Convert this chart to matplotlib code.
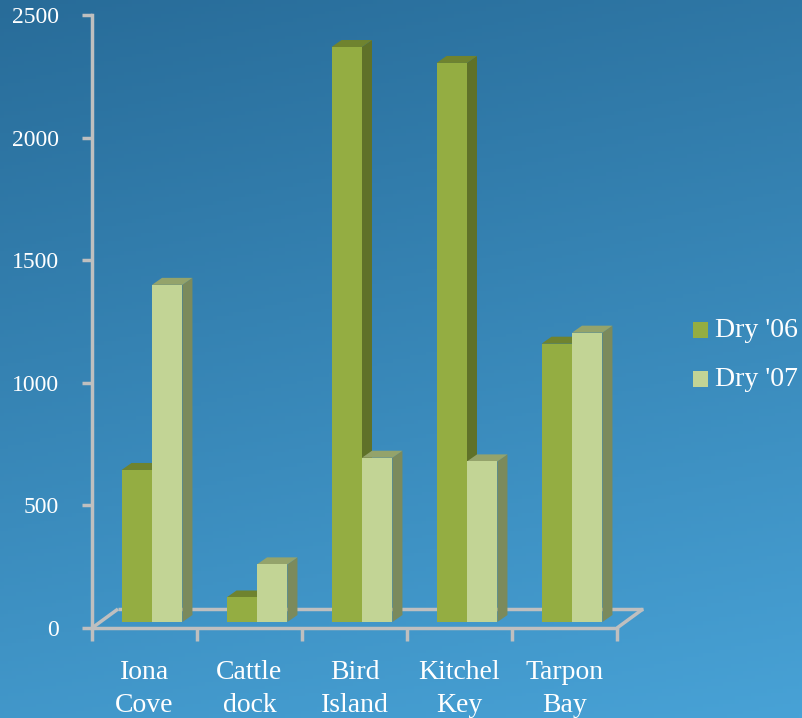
import numpy as np
import matplotlib
matplotlib.use("Agg")
import matplotlib.pyplot as plt
from matplotlib.patches import Polygon, Rectangle

# ---- data ----
categories = ["Iona\nCove", "Cattle\ndock", "Bird\nIsland", "Kitchel\nKey", "Tarpon\nBay"]
series_names = ["Dry '06", "Dry '07"]
dry06 = [620, 100, 2345, 2280, 1135]
dry07 = [1375, 235, 670, 655, 1180]
y_ticks = [0, 500, 1000, 1500, 2000, 2500]

# ---- style ----
W, H = 803, 718
DPI = 100
FONT = ["Liberation Serif", "DejaVu Serif"]
AXIS_COLOR = "#bfbfbf"
face_colors = ["#94ad42", "#c2d495"]
side_colors = ["#5f7129", "#7b8a5c"]
top_colors = ["#6f832f", "#94a36b"]

YMAX = 2500
PX_PER_CAT = 105.0
PX_PER_VAL = 613.0 / YMAX
BAR_W = 0.29
DEPTH_PX = (10.0, 7.0)          # bar depth in pixels (right, up)
FLOOR_BACK_PX = (18.5, 13.0)    # back edge of floor relative to bar plane
FLOOR_FRONT_PX = (-7.5, -6.0)   # front edge of floor relative to bar plane

fig = plt.figure(figsize=(W / DPI, H / DPI), dpi=DPI)


def fig_rect(left, top, right, bottom):
    """Pixel box (image coords) -> figure fraction rect."""
    return [left / W, 1 - bottom / H, (right - left) / W, (bottom - top) / H]


# background gradient
bg = fig.add_axes([0, 0, 1, 1])
yy, xx = np.mgrid[0:1:200j, 0:1:200j]
t = 0.8 * yy + 0.2 * xx
c0 = np.array([40, 108, 153]) / 255
c1 = np.array([72, 162, 214]) / 255
img = c0[None, None, :] * (1 - t[..., None]) + c1[None, None, :] * t[..., None]
bg.imshow(img, aspect="auto", extent=[0, 1, 0, 1], origin="upper")
bg.set_axis_off()

# front axes: value axis, front floor edge and category labels
front_left, front_bottom = 92, 628
front = fig.add_axes(fig_rect(front_left, front_bottom - YMAX * PX_PER_VAL,
                              front_left + 5 * PX_PER_CAT, front_bottom))
front.set_xlim(-0.5, len(categories) - 0.5)
front.set_ylim(0, YMAX)
front.patch.set_visible(False)
for s in ["top", "right"]:
    front.spines[s].set_visible(False)
for s in ["left", "bottom"]:
    front.spines[s].set_color(AXIS_COLOR)
    front.spines[s].set_linewidth(2.5)
front.set_yticks(y_ticks)
front.set_yticklabels([str(v) for v in y_ticks], fontfamily=FONT, fontsize=17, color="white")
front.tick_params(axis="y", direction="out", length=7, width=2.5, color=AXIS_COLOR, pad=17)
front.set_xticks(np.arange(-0.5, len(categories), 1.0))
front.set_xticklabels([])
front.tick_params(axis="x", which="major", direction="out", length=9, width=2.5, color=AXIS_COLOR)
front.set_xticks(np.arange(len(categories)), minor=True)
front.set_xticklabels(categories, minor=True, fontfamily=FONT, fontsize=20,
                      color="white", linespacing=1.4)
front.tick_params(axis="x", which="minor", length=0, pad=23)

# bar plane axes
ax = fig.add_axes(fig_rect(99.5, 622 - YMAX * PX_PER_VAL, 99.5 + 5 * PX_PER_CAT, 622))
ax.set_xlim(-0.5, len(categories) - 0.5)
ax.set_ylim(0, YMAX)
ax.set_axis_off()
ax.patch.set_visible(False)

dx = DEPTH_PX[0] / PX_PER_CAT
dy = DEPTH_PX[1] / PX_PER_VAL

# floor outline
fx0, fy0 = FLOOR_FRONT_PX[0] / PX_PER_CAT, FLOOR_FRONT_PX[1] / PX_PER_VAL
bx0, by0 = FLOOR_BACK_PX[0] / PX_PER_CAT, FLOOR_BACK_PX[1] / PX_PER_VAL
xl, xr = -0.5, len(categories) - 0.5
floor_kw = dict(color=AXIS_COLOR, lw=2.5, solid_capstyle="butt", clip_on=False, zorder=1)
ax.plot([xl + bx0, xr + bx0], [by0, by0], **floor_kw)
ax.plot([xl + fx0, xl + bx0], [fy0, by0], **floor_kw)
ax.plot([xr + fx0, xr + bx0], [fy0, by0], **floor_kw)

# 3D-looking bars
for i in range(len(categories)):
    for k, vals in enumerate([dry06, dry07]):
        v = vals[i]
        x0 = i - BAR_W + k * BAR_W
        x1 = x0 + BAR_W
        z = 2 + k
        side = Polygon([(x1, 0), (x1 + dx, dy), (x1 + dx, v + dy), (x1, v)],
                       closed=True, fc=side_colors[k], ec="none", zorder=z)
        top = Polygon([(x0, v), (x1, v), (x1 + dx, v + dy), (x0 + dx, v + dy)],
                      closed=True, fc=top_colors[k], ec="none", zorder=z)
        ax.add_patch(side)
        ax.add_patch(top)
        ax.bar(x0, v, width=BAR_W, align="edge", color=face_colors[k],
               edgecolor="none", zorder=z)

# legend
leg_x, leg_y = 693, [322, 371]
for k, name in enumerate(series_names):
    fig.patches.append(Rectangle((leg_x / W, 1 - (leg_y[k] + 16) / H), 15 / W, 16 / H,
                                 transform=fig.transFigure, fc=face_colors[k], ec="none"))
    fig.text(715 / W, 1 - (leg_y[k] + 9) / H, name, fontfamily=FONT, fontsize=20,
             color="white", va="center", ha="left")

fig.savefig("out.png", dpi=DPI)
